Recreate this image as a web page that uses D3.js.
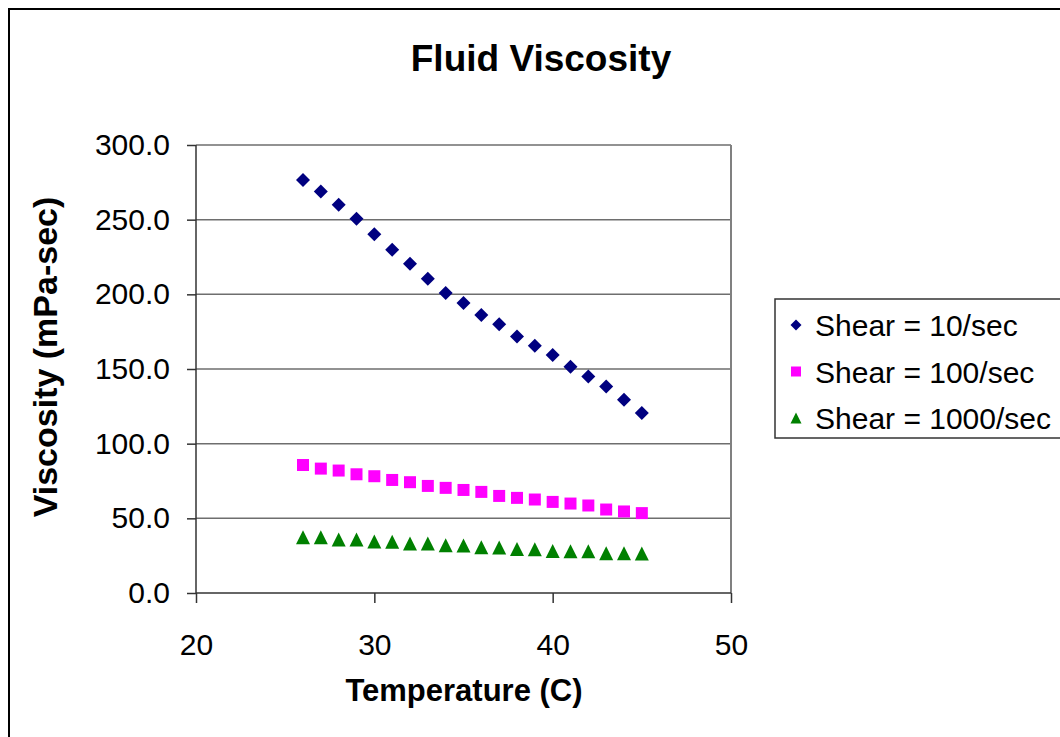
<!DOCTYPE html>
<html>
<head>
<meta charset="utf-8">
<script src="https://cdn.jsdelivr.net/npm/d3@7"></script>
<style>
  body { margin: 0; background: #fff; }
  text { font-family: "Liberation Sans", Arial, sans-serif; }
</style>
</head>
<body>
<script>
// data
var temps = [26, 27, 28, 29, 30, 31, 32, 33, 34, 35, 36, 37, 38, 39, 40, 41, 42, 43, 44, 45];
var shear10 = [276.6, 268.9, 260.0, 250.6, 240.2, 229.9, 220.5, 210.5, 200.9, 194.2,
               186.2, 180.0, 171.8, 165.5, 159.3, 151.5, 145.0, 138.3, 129.4, 120.5];
var shear100 = [85.7, 83.3, 82.0, 79.5, 78.2, 75.7, 74.2, 71.7, 70.4, 69.0,
                67.7, 65.0, 63.7, 62.6, 61.0, 59.9, 58.6, 55.9, 54.6, 53.5];
var shear1000 = [37.4, 37.3, 35.9, 35.8, 34.5, 34.4, 33.2, 33.1, 31.9, 31.8,
                 30.6, 30.5, 29.4, 29.3, 28.1, 28.0, 27.9, 26.7, 26.6, 26.5];
var seriesNames = ["Shear = 10/sec", "Shear = 100/sec", "Shear = 1000/sec"];
var xTicks = [20, 30, 40, 50];
var yTicks = [0, 50, 100, 150, 200, 250, 300];

var W = 1060, H = 737;
var plot = {left: 196, top: 145, right: 731, bottom: 593};

var svg = d3.select("body").append("svg")
    .attr("width", W)
    .attr("height", H);

// outer chart border
svg.append("rect")
    .attr("x", 9).attr("y", 9)
    .attr("width", 1100).attr("height", 800)
    .attr("fill", "#fff")
    .attr("stroke", "#000")
    .attr("stroke-width", 2);

var x = d3.scaleLinear().domain([20, 50]).range([plot.left, plot.right]);
var y = d3.scaleLinear().domain([0, 300]).range([plot.bottom, plot.top]);

// gridlines
svg.append("g")
    .selectAll("line")
    .data(yTicks.filter(function(d) { return d > 0; }))
    .enter().append("line")
    .attr("x1", plot.left).attr("x2", plot.right)
    .attr("y1", function(d) { return y(d); })
    .attr("y2", function(d) { return y(d); })
    .attr("stroke", "#6e6e6e")
    .attr("stroke-width", 1.5);

// plot area border (right side)
svg.append("line")
    .attr("x1", plot.right).attr("x2", plot.right)
    .attr("y1", plot.top).attr("y2", plot.bottom)
    .attr("stroke", "#808080")
    .attr("stroke-width", 2);

// axes
var yAxis = svg.append("g")
    .attr("transform", "translate(" + plot.left + ",0)")
    .call(d3.axisLeft(y).tickValues(yTicks).tickSize(9).tickPadding(17)
      .tickFormat(d3.format(".1f")));
var xAxis = svg.append("g")
    .attr("transform", "translate(0," + plot.bottom + ")")
    .call(d3.axisBottom(x).tickValues(xTicks).tickSize(10).tickPadding(31));

[xAxis, yAxis].forEach(function(a) {
  a.select(".domain").attr("stroke", "#333").attr("stroke-width", 1.5);
  a.selectAll(".tick line").attr("stroke", "#333").attr("stroke-width", 1.5);
  a.selectAll(".tick text")
    .attr("fill", "#000")
    .style("font-size", "30px")
    .style("font-family", "'Liberation Sans', Arial, sans-serif");
});
xAxis.select(".domain").attr("d", "M" + plot.left + ",0H" + plot.right);
yAxis.select(".domain").attr("d", "M0," + plot.bottom + "V" + plot.top);

// marker shapes
var diamond = { draw: function(ctx, r) {
  ctx.moveTo(0, -r); ctx.lineTo(r, 0); ctx.lineTo(0, r); ctx.lineTo(-r, 0); ctx.closePath();
}};
var square = { draw: function(ctx, r) {
  ctx.rect(-r, -r, 2 * r, 2 * r);
}};
var triangle = { draw: function(ctx, r) {
  ctx.moveTo(0, -r); ctx.lineTo(r, r); ctx.lineTo(-r, r); ctx.closePath();
}};

var series = [
  {name: seriesNames[0], values: shear10, color: "#000080", type: diamond, r: 7, lr: 5.5},
  {name: seriesNames[1], values: shear100, color: "#ff00ff", type: square, r: 6, lr: 5},
  {name: seriesNames[2], values: shear1000, color: "#008000", type: triangle, r: 7, lr: 5.5}
];

series.forEach(function(s) {
  svg.append("g")
    .selectAll("path")
    .data(s.values)
    .enter().append("path")
    .attr("transform", function(d, i) { return "translate(" + x(temps[i]) + "," + y(d) + ")"; })
    .attr("d", d3.symbol().type(s.type).size(s.r))
    .attr("fill", s.color);
});

// title
svg.append("text")
    .attr("x", 541).attr("y", 71)
    .attr("text-anchor", "middle")
    .style("font-size", "37px")
    .style("font-weight", "bold")
    .text("Fluid Viscosity");

// axis titles
svg.append("text")
    .attr("x", 464).attr("y", 701)
    .attr("text-anchor", "middle")
    .style("font-size", "31px")
    .style("font-weight", "bold")
    .text("Temperature (C)");

svg.append("text")
    .attr("transform", "translate(57,357) rotate(-90)")
    .attr("text-anchor", "middle")
    .style("font-size", "34px")
    .style("font-weight", "bold")
    .text("Viscosity (mPa-sec)");

// legend
var legend = svg.append("g");
legend.append("rect")
    .attr("x", 775).attr("y", 299)
    .attr("width", 400).attr("height", 139)
    .attr("fill", "#fff")
    .attr("stroke", "#333")
    .attr("stroke-width", 1.5);

var item = legend.selectAll("g.item")
    .data(series)
    .enter().append("g")
    .attr("class", "item")
    .attr("transform", function(d, i) { return "translate(0," + (325 + i * 46.5) + ")"; });

item.append("path")
    .attr("transform", "translate(796,0)")
    .attr("d", function(d) { return d3.symbol().type(d.type).size(d.lr)(); })
    .attr("fill", function(d) { return d.color; });

item.append("text")
    .attr("x", 815).attr("y", 11)
    .style("font-size", "30px")
    .text(function(d) { return d.name; });
</script>
</body>
</html>
